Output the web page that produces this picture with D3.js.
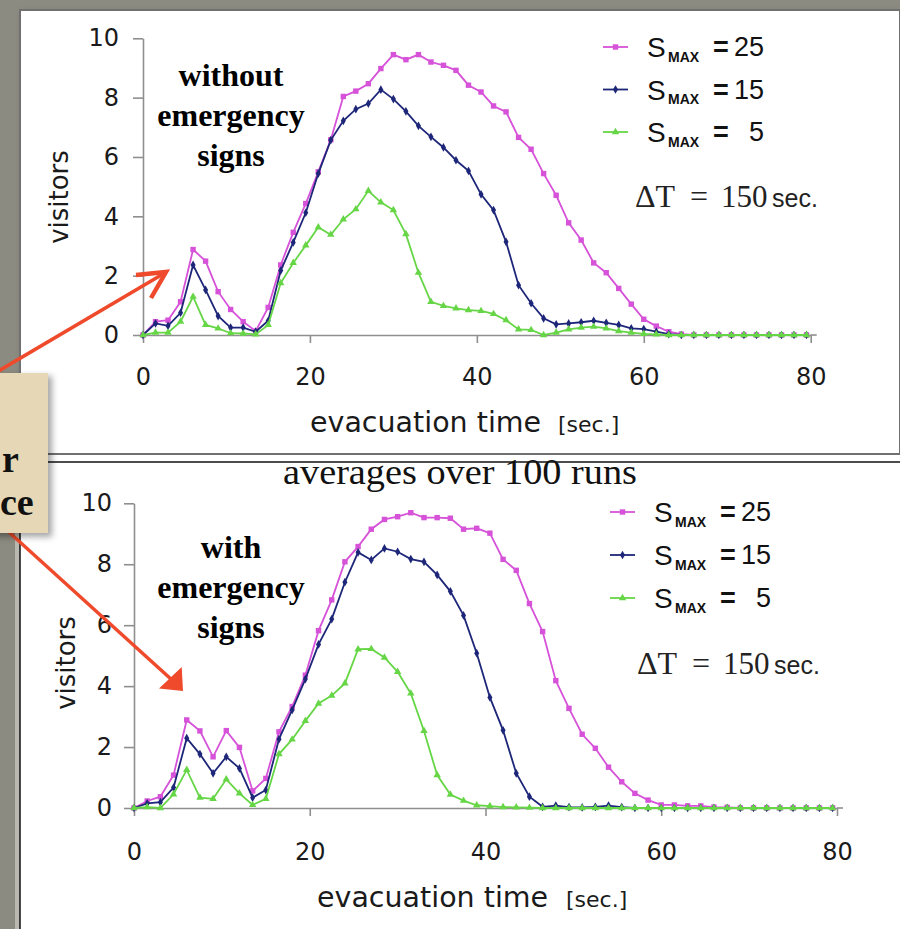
<!DOCTYPE html>
<html><head><meta charset="utf-8">
<script src="https://cdn.jsdelivr.net/npm/d3@7"></script>
<style>body{margin:0;background:#8b8b81;} svg{display:block}</style>
</head><body><svg id="c" width="900" height="929"></svg>
<script>
// ---------- data ----------
const times = [0,1.5,3,4.5,6,7.5,9,10.5,12,13.5,15,16.5,18,19.5,21,22.5,24,25.5,27,28.5,30,31.5,33,34.5,36,37.5,39,40.5,42,43.5,45,46.5,48,49.5,51,52.5,54,55.5,57,58.5,60,61.5,63,64.5,66,67.5,69,70.5,72,73.5,75,76.5,78,79.5];

const noSigns25 = [0,0.45,0.5,1.12,2.88,2.49,1.46,0.86,0.45,0.13,
  0.93,2.36,3.46,4.43,5.5,6.58,8.04,8.22,8.47,8.98,
  9.45,9.28,9.45,9.2,9.09,8.92,8.42,8.19,7.72,7.52,
  6.66,6.26,5.44,4.71,3.78,3.2,2.43,2.1,1.57,1.04,
  0.53,0.3,0.11,0.03,0,0,0,0,0,0,
  0,0,0,0];
const noSigns15 = [0,0.39,0.31,0.75,2.36,1.52,0.64,0.25,0.25,0.11,
  0.48,2.17,3.12,4.12,5.44,6.57,7.22,7.61,7.8,8.27,
  7.95,7.54,7.05,6.68,6.32,5.89,5.53,4.74,4.21,3.14,
  1.68,1.07,0.56,0.36,0.39,0.43,0.48,0.41,0.34,0.22,
  0.2,0.11,0.03,0,0,0,0,0,0,0,
  0,0,0,0];
const noSigns5 = [0,0.08,0.08,0.45,1.29,0.34,0.22,0.06,0.05,0.02,
  0.34,1.75,2.43,3.02,3.63,3.38,3.9,4.24,4.86,4.47,
  4.21,3.4,2.1,1.12,0.98,0.9,0.84,0.81,0.71,0.5,
  0.19,0.17,0,0.08,0.19,0.25,0.28,0.22,0.13,0.08,
  0.04,0.02,0,0,0,0,0,0,0,0,
  0,0,0,0];

const withSigns25 = [0,0.23,0.37,1.08,2.89,2.53,1.68,2.54,1.99,0.56,
  0.97,2.5,3.33,4.36,5.82,6.83,8.08,8.58,9.15,9.47,
  9.56,9.69,9.53,9.53,9.51,9.15,9.18,9.02,8.16,7.8,
  6.71,5.79,4.18,3.27,2.42,1.96,1.34,0.86,0.48,0.26,
  0.1,0.1,0.07,0.07,0.03,0.02,0,0,0,0,
  0,0,0,0];
const withSigns15 = [0,0.15,0.19,0.67,2.29,1.77,1.14,1.68,1.3,0.34,
  0.59,2.26,3.22,4.23,5.37,6.2,7.41,8.39,8.14,8.52,
  8.41,8.17,8.08,7.65,7.11,6.32,5.08,3.63,2.55,1.14,
  0.37,0.04,0.08,0.03,0.02,0.04,0.08,0.03,0,0,
  0,0,0,0,0,0,0,0,0,0,
  0,0,0,0];
const withSigns5 = [0,0.03,0,0.45,1.25,0.34,0.3,0.94,0.48,0.1,
  0.3,1.77,2.25,2.86,3.43,3.69,4.09,5.21,5.22,4.94,
  4.47,3.76,2.53,1.08,0.44,0.24,0.09,0.06,0.03,0.02,
  0.01,0,0,0,0,0,0,0,0,0,
  0,0,0,0,0,0,0,0,0,0,
  0,0,0,0];

const seriesNames = ["25","15","5"];
const seriesColors = ["#d652d8","#1d2678","#66d646"];
const yTicks = [0,2,4,6,8,10];
const xTicks = [0,20,40,60,80];
const topNote = ["without","emergency","signs"];
const bottomNote = ["with","emergency","signs"];
const xTitle = "evacuation time";
const xUnit = "[sec.]";
const yTitle = "visitors";
const middleTitle = "averages over 100 runs";
const calloutLines = ["r","ce"];

// ---------- drawing ----------
const svg = d3.select("#c");
const defs = svg.append("defs");
const blur = defs.append("filter").attr("id","sh").attr("x","-20%").attr("y","-20%").attr("width","150%").attr("height","150%");
blur.append("feGaussianBlur").attr("stdDeviation",3);

svg.append("rect").attr("width",900).attr("height",929).attr("fill","#8b8b81");
// top panel
svg.append("rect").attr("x",22).attr("y",12).attr("width",880).attr("height",446).attr("fill","rgba(0,0,0,0.25)").attr("filter","url(#sh)");
svg.append("rect").attr("x",20).attr("y",10).attr("width",880).attr("height",444).attr("fill","#fff").attr("stroke","#707070").attr("stroke-width",2);
// bottom panel
svg.append("rect").attr("x",15).attr("y",462).attr("width",5).attr("height",467).attr("fill","#b9b9b1");
svg.append("rect").attr("x",20).attr("y",455).attr("width",880).attr("height",474).attr("fill","#fff");
svg.append("line").attr("x1",20).attr("x2",900).attr("y1",462).attr("y2",462).attr("stroke","#111").attr("stroke-width",1.5);
svg.append("line").attr("x1",20).attr("x2",20).attr("y1",462).attr("y2",929).attr("stroke","#111").attr("stroke-width",1.5);

svg.append("text").attr("x",283).attr("y",484).attr("textLength",354).attr("lengthAdjust","spacingAndGlyphs")
  .attr("font-family","Liberation Serif, serif").attr("font-size",35).attr("fill","#111").text(middleTitle);

function marker(sel, i, color) {
  if (i === 0) {
    sel.append("rect").attr("x",-2.7).attr("y",-2.7).attr("width",5.4).attr("height",5.4).attr("fill",color);
  } else if (i === 1) {
    sel.append("path").attr("d",d3.symbol(d3.symbolDiamond,22)()).attr("fill",color);
  } else {
    sel.append("path").attr("d",d3.symbol(d3.symbolTriangle,24)()).attr("fill",color);
  }
}

function drawPanel(p) {
  const x = d3.scaleLinear().domain([0,80]).range([p.x0,p.x1]);
  const y = d3.scaleLinear().domain([0,10]).range([p.y0,p.y1]);
  const g = svg.append("g");
  const axisColor = "#8f8f8f";

  const ya = g.append("g").attr("transform",`translate(${p.x0},0)`)
    .call(d3.axisLeft(y).tickValues(yTicks).tickSize(10).tickSizeOuter(0).tickPadding(p.yPad).tickFormat(d3.format("d")));
  const xa = g.append("g").attr("transform",`translate(0,${p.y0})`)
    .call(d3.axisBottom(x).tickValues(xTicks).tickSize(8).tickSizeOuter(0).tickPadding(p.xPad).tickFormat(d3.format("d")));
  g.append("line").attr("x1",x(80)).attr("x2",x(80)+6).attr("y1",p.y0).attr("y2",p.y0).attr("stroke",axisColor).attr("stroke-width",1.6);
  [ya,xa].forEach(a=>{
    a.selectAll("path,line").attr("stroke",axisColor).attr("stroke-width",1.6);
    a.selectAll("text").attr("font-family","DejaVu Sans, sans-serif").attr("font-size",24).attr("fill","#1a1a1a");
  });

  // series
  const line = d3.line().x(d=>x(d[0])).y(d=>y(d[1]));
  p.series.forEach((vals,i)=>{
    const pts = times.map((t,k)=>[t,vals[k]]);
    g.append("path").datum(pts).attr("d",line).attr("fill","none").attr("stroke",seriesColors[i]).attr("stroke-width",1.8);
    const m = g.append("g").selectAll("g").data(pts).join("g").attr("transform",d=>`translate(${x(d[0])},${y(d[1])})`);
    m.each(function(){ marker(d3.select(this), i, seriesColors[i]); });
  });

  // axis titles
  g.append("text").attr("transform",`translate(${p.yTitleX},${p.yTitleY}) rotate(-90)`).attr("text-anchor","middle")
    .attr("font-family","DejaVu Sans, sans-serif").attr("font-size",26).attr("fill","#1a1a1a").text(yTitle);
  const xt = g.append("text").attr("x",p.xTitleX).attr("y",p.xTitleY).attr("font-family","DejaVu Sans, sans-serif").attr("fill","#1a1a1a");
  xt.append("tspan").attr("font-size",28.5).text(xTitle);
  xt.append("tspan").attr("x",p.xUnitX).attr("font-size",22).text(xUnit);

  // note
  const nt = g.append("text").attr("text-anchor","middle").attr("font-family","Liberation Serif, serif").attr("font-weight","bold").attr("font-size",32).attr("fill","#000");
  p.note.forEach((s,k)=> nt.append("tspan").attr("x",p.noteX).attr("y",p.noteY + k*40).text(s));

  // legend
  seriesNames.forEach((n,i)=>{
    const ly = p.legY + i*p.legStep;
    g.append("line").attr("x1",p.legX).attr("x2",p.legX+25).attr("y1",ly).attr("y2",ly).attr("stroke",seriesColors[i]).attr("stroke-width",1.8);
    const mg = g.append("g").attr("transform",`translate(${p.legX+12.5},${ly})`);
    marker(mg, i, seriesColors[i]);
    const t = g.append("text").attr("font-family","Liberation Sans, Arial, sans-serif").attr("fill","#111");
    t.append("tspan").attr("x",p.legX+44).attr("y",ly+10).attr("font-size",28).text("S");
    t.append("tspan").attr("x",p.legX+65).attr("y",ly+14.5).attr("font-size",14).attr("font-weight","bold").text("MAX");
    t.append("tspan").attr("x",p.legX+110).attr("y",ly+9).attr("font-size",27).attr("font-weight","bold").text("=");
    g.append("text").attr("x",p.legX+161).attr("y",ly+9).attr("text-anchor","end").attr("font-family","Liberation Sans, Arial, sans-serif").attr("font-size",27).attr("fill","#111").text(n);
  });

  // delta T
  const dt = g.append("text").attr("y",p.dtY).attr("fill","#222");
  dt.append("tspan").attr("x",p.dtX).attr("font-family","Liberation Serif, serif").attr("font-size",32).text("ΔT");
  dt.append("tspan").attr("x",p.dtX+55).attr("font-family","Liberation Serif, serif").attr("font-size",32).text("=");
  dt.append("tspan").attr("x",p.dtX+86).attr("font-family","Liberation Serif, serif").attr("font-size",31).text("150");
  dt.append("tspan").attr("x",p.dtX+137).attr("font-family","Liberation Sans, Arial, sans-serif").attr("font-size",25).text("sec.");
}

drawPanel({x0:143,x1:810.7,y0:335,y1:38.3,yPad:14,xPad:25,
  series:[noSigns25,noSigns15,noSigns5],
  yTitleX:68,yTitleY:197,xTitleX:310,xTitleY:432,xUnitX:558,
  note:topNote,noteX:231,noteY:86,
  legX:603,legY:47,legStep:42.5,dtX:635,dtY:207});

drawPanel({x0:134,x1:837,y0:808,y1:503.3,yPad:12,xPad:27,
  series:[withSigns25,withSigns15,withSigns5],
  yTitleX:75,yTitleY:663,xTitleX:317,xTitleY:907,xUnitX:566,
  note:bottomNote,noteX:231,noteY:558,
  legX:610,legY:512,legStep:43,dtX:637,dtY:674});

// callout box and arrows
const red = "#ee4a2b";
svg.append("line").attr("x1",-10).attr("y1",376).attr("x2",163).attr("y2",274).attr("stroke",red).attr("stroke-width",3.5);
svg.append("polyline").attr("points","136,275 166,272 151,298").attr("fill","none").attr("stroke",red).attr("stroke-width",4.5).attr("stroke-linejoin","miter");
svg.append("line").attr("x1",0).attr("y1",524).attr("x2",172).attr("y2",680).attr("stroke",red).attr("stroke-width",3.5);
svg.append("polygon").attr("points","181.7,667 159,688.5 183,691").attr("fill",red);

svg.append("rect").attr("x",-10).attr("y",376).attr("width",62).attr("height",161).attr("fill","rgba(0,0,0,0.35)").attr("filter","url(#sh)");
svg.append("rect").attr("x",-10).attr("y",373).attr("width",58).attr("height",160).attr("fill","#e6d8b6");
svg.append("text").attr("x",2).attr("y",472).attr("font-family","Liberation Serif, serif").attr("font-weight","bold").attr("font-size",38).attr("fill","#111").text(calloutLines[0]);
svg.append("text").attr("x",0).attr("y",515).attr("font-family","Liberation Serif, serif").attr("font-weight","bold").attr("font-size",38).attr("fill","#111").text(calloutLines[1]);
</script></body></html>
